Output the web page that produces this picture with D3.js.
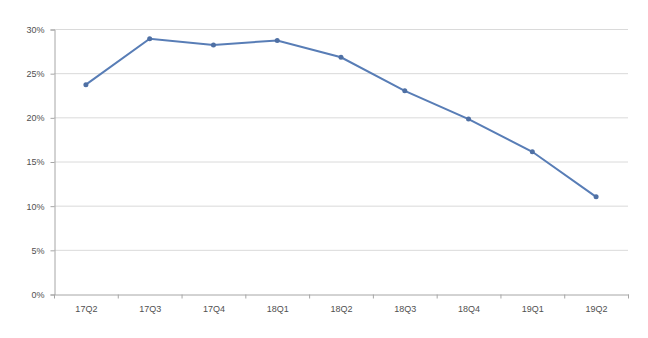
<!DOCTYPE html>
<html><head><meta charset="utf-8">
<script src="https://cdn.jsdelivr.net/npm/d3@7"></script>
<style>body{margin:0;background:#fff}svg{display:block}</style>
</head><body>
<svg id="c" width="648" height="338"></svg>
<script>
const categories = ["17Q2","17Q3","17Q4","18Q1","18Q2","18Q3","18Q4","19Q1","19Q2"];
const values = [23.7, 28.9, 28.2, 28.7, 26.8, 23.0, 19.8, 16.1, 11.0];
const yTicks = [0, 5, 10, 15, 20, 25, 30];

(function () {
const svg = d3.select("#c");
const mLeft = 54, mRight = 628, mTop = 29, mBottom = 294;
const x = d3.scaleBand().domain(categories).range([mLeft, mRight]);
const y = d3.scaleLinear().domain([0, 30]).range([mBottom, mTop]);

svg.append("g").selectAll("line").data(yTicks.filter(d => d > 0)).join("line")
  .attr("x1", mLeft).attr("x2", mRight)
  .attr("y1", d => y(d) + 0.5).attr("y2", d => y(d) + 0.5)
  .attr("stroke", "#dadada").attr("stroke-width", 1);

const font = "Liberation Sans, Arial, sans-serif";
const ya = svg.append("g").attr("transform", `translate(${mLeft + 0.5},0.5)`)
  .call(d3.axisLeft(y).tickValues(yTicks).tickFormat(d => d + "%").tickSize(4).tickPadding(6));
ya.select(".domain").attr("stroke", "#a6a6a6");
ya.selectAll(".tick line").attr("stroke", "#a6a6a6");
ya.selectAll("text").attr("fill", "#505050").style("font", `9px ${font}`);

const xa = svg.append("g").attr("transform", `translate(0.5,${mBottom + 0.5})`)
  .call(d3.axisBottom(x).tickSize(0).tickPadding(11));
xa.select(".domain").attr("stroke", "#a6a6a6");
xa.selectAll("text").attr("fill", "#505050").style("font", `9px ${font}`);
xa.append("g").selectAll("line").data(categories.concat(["_end"])).join("line")
  .attr("x1", (d, i) => i < categories.length ? x(d) : mRight)
  .attr("x2", (d, i) => i < categories.length ? x(d) : mRight)
  .attr("y1", 0).attr("y2", 4).attr("stroke", "#a6a6a6");

const line = d3.line().x((d, i) => x(categories[i]) + x.bandwidth() / 2).y(d => y(d));
svg.append("path").datum(values).attr("d", line)
  .attr("fill", "none").attr("stroke", "#587db6").attr("stroke-width", 2);
svg.append("g").selectAll("circle").data(values).join("circle")
  .attr("cx", (d, i) => x(categories[i]) + x.bandwidth() / 2).attr("cy", d => y(d))
  .attr("r", 2.5).attr("fill", "#4f70a4");
})();
</script>
</body></html>
